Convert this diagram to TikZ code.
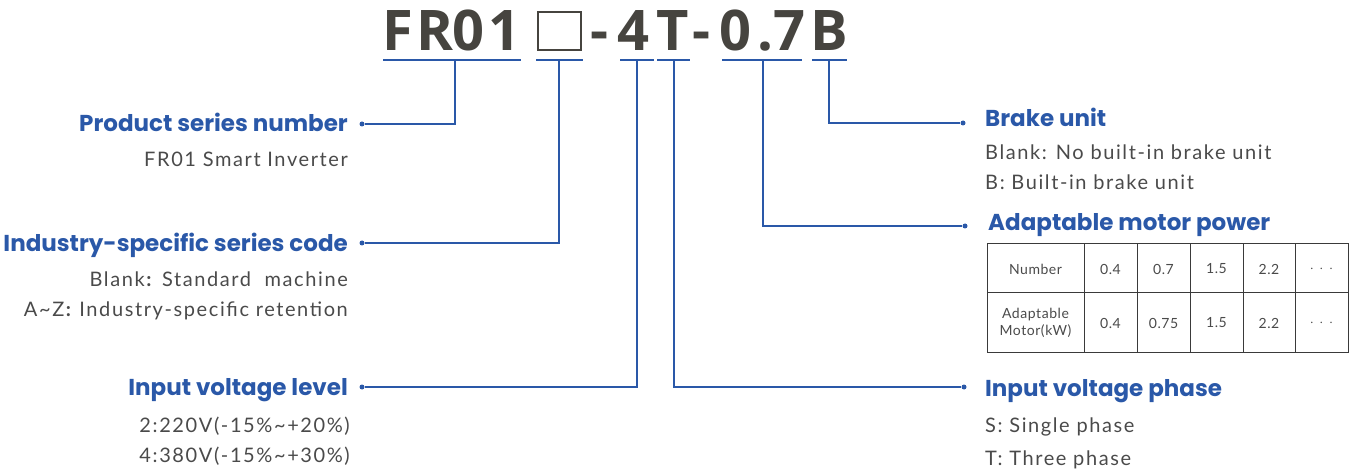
\documentclass[tikz,border=0pt]{standalone}
\usepackage{fontspec}
\setmainfont{Lato}[LetterSpace=8]
\newfontfamily\headfont{Poppins}
\newfontfamily\titlefont{Open Sans}
\newfontfamily\cellfont{Lato}[LetterSpace=4]
\definecolor{blu}{HTML}{2A58A8}
\definecolor{txt}{HTML}{4A4A4A}
\definecolor{ttl}{HTML}{46443F}
\definecolor{grd}{HTML}{3A3A3A}
\tikzset{
  ttlchar/.style={anchor=base west,inner sep=0pt,text=ttl,font=\titlefont\bfseries\fontsize{56}{56}\selectfont},
  head/.style={inner sep=0pt,text=blu,font=\headfont\bfseries\fontsize{23}{26}\selectfont},
  body/.style={inner sep=0pt,text=txt,font=\fontsize{20}{22}\selectfont},
  uline/.style={draw=blu,line width=1.6pt},
  conn/.style={draw=blu,line width=1.3pt},
  dotmark/.style={circle,fill=blu,inner sep=0pt,minimum size=5pt},
  cell/.style={inner sep=0pt,text=txt,font=\cellfont\fontsize{14}{16}\selectfont,align=center},
  grid/.style={draw=grd,line width=1pt}
}
\begin{document}
\begin{tikzpicture}[x=1pt,y=-1pt]
\useasboundingbox (0,0) rectangle (1355,470);
% title
\node[ttlchar] (cF) at (382,51) {F};
\node[ttlchar] (cR) at (416,51) {R};
\node[ttlchar] (c0) at (452,51) {0};
\node[ttlchar] (c1) at (488,51) {1};
\draw[ttl,line width=2pt] (538,12) rectangle (581,50);
\node[ttlchar] (cd1) at (590,51) {-};
\node[ttlchar] (c4) at (617,51) {4};
\node[ttlchar] (cT) at (656,51) {T};
\node[ttlchar] (cd2) at (692,51) {-};
\node[ttlchar] (c00) at (719,51) {0};
\node[ttlchar] (cdot) at (757,51) {.};
\node[ttlchar] (c7) at (773,51) {7};
\node[ttlchar] (cB) at (810,51) {B};
% underlines
\draw[uline] (383,60) -- (521,60);
\draw[uline] (536,60) -- (583,60);
\draw[uline] (620,60) -- (654,60);
\draw[uline] (657,60) -- (690,60);
\draw[uline] (722,60) -- (802,60);
\draw[uline] (812,60) -- (847,60);
\coordinate (u1) at (455,60);
\coordinate (u2) at (559,60);
\coordinate (u3) at (637,60);
\coordinate (u4) at (674,60);
\coordinate (u5) at (763,60);
\coordinate (u6) at (829,60);
% dots
\node[dotmark] (d1) at (362,124) {};
\node[dotmark] (d2) at (362,243) {};
\node[dotmark] (d3) at (362,387) {};
\node[dotmark] (d4) at (964,387) {};
\node[dotmark] (d5) at (965,226) {};
\node[dotmark] (d6) at (963,123) {};
\draw[conn] (u1) |- (d1);
\draw[conn] (u2) |- (d2);
\draw[conn] (u3) |- (d3);
\draw[conn] (u4) |- (d4);
\draw[conn] (u5) |- (d5);
\draw[conn] (u6) |- (d6);
% left headings
\node[head,anchor=base east] (h1) at (348,132) {Product series number};
\node[body,anchor=base east] (t1) at (348,167) {FR01 Smart Inverter};
\node[head,anchor=base east] (h2) at (348,252) {Industry-specific series code};
\node[body,anchor=base east] (t2a) at (348,287) {Blank\textbf{:} Standard\ \ machine};
\node[body,anchor=base east] (t2b) at (348,317) {A\textasciitilde Z\textbf{:} Industry-specific retention};
\node[head,anchor=base east] (h3) at (348,395) {Input voltage level};
\node[body,anchor=base east] (t3a) at (350,432) {2:220V(-15\%\textasciitilde +20\%)};
\node[body,anchor=base east] (t3b) at (350,462) {4:380V(-15\%\textasciitilde +30\%)};
% right headings
\node[head,anchor=base west] (h6) at (985,127) {Brake unit};
\node[body,anchor=base west] (t6a) at (985,160) {Blank: No built-in brake unit};
\node[body,anchor=base west] (t6b) at (985,190) {B: Built-in brake unit};
\node[head,anchor=base west] (h5) at (988,231) {Adaptable motor power};
\node[head,anchor=base west] (h4) at (985,396) {Input voltage phase};
\node[body,anchor=base west] (t4a) at (985,432) {S: Single phase};
\node[body,anchor=base west] (t4b) at (985,465) {T: Three phase};
% table
\draw[grid] (987,244) rectangle (1348,353);
\draw[grid] (987,293) -- (1348,293);
\foreach \xx in {1084,1137,1190,1243,1295} \draw[grid] (\xx,244) -- (\xx,353);
\node[cell] (n0) at (1035.5,269) {Number};
\node[cell] (n1) at (1110.5,269) {0.4};
\node[cell] (n2) at (1163.5,269) {0.7};
\node[cell] (n3) at (1216.5,269) {1.5};
\node[cell] (n4) at (1269,269) {2.2};
\node[cell] (n5) at (1321.5,269) {$\cdot\,\cdot\,\cdot$};
\node[cell,font=\cellfont\fontsize{14}{17}\selectfont] (m0) at (1035.5,323) {Adaptable\\Motor(kW)};
\node[cell] (m1) at (1110.5,323) {0.4};
\node[cell] (m2) at (1163.5,323) {0.75};
\node[cell] (m3) at (1216.5,323) {1.5};
\node[cell] (m4) at (1269,323) {2.2};
\node[cell] (m5) at (1321.5,323) {$\cdot\,\cdot\,\cdot$};
\end{tikzpicture}
\end{document}
